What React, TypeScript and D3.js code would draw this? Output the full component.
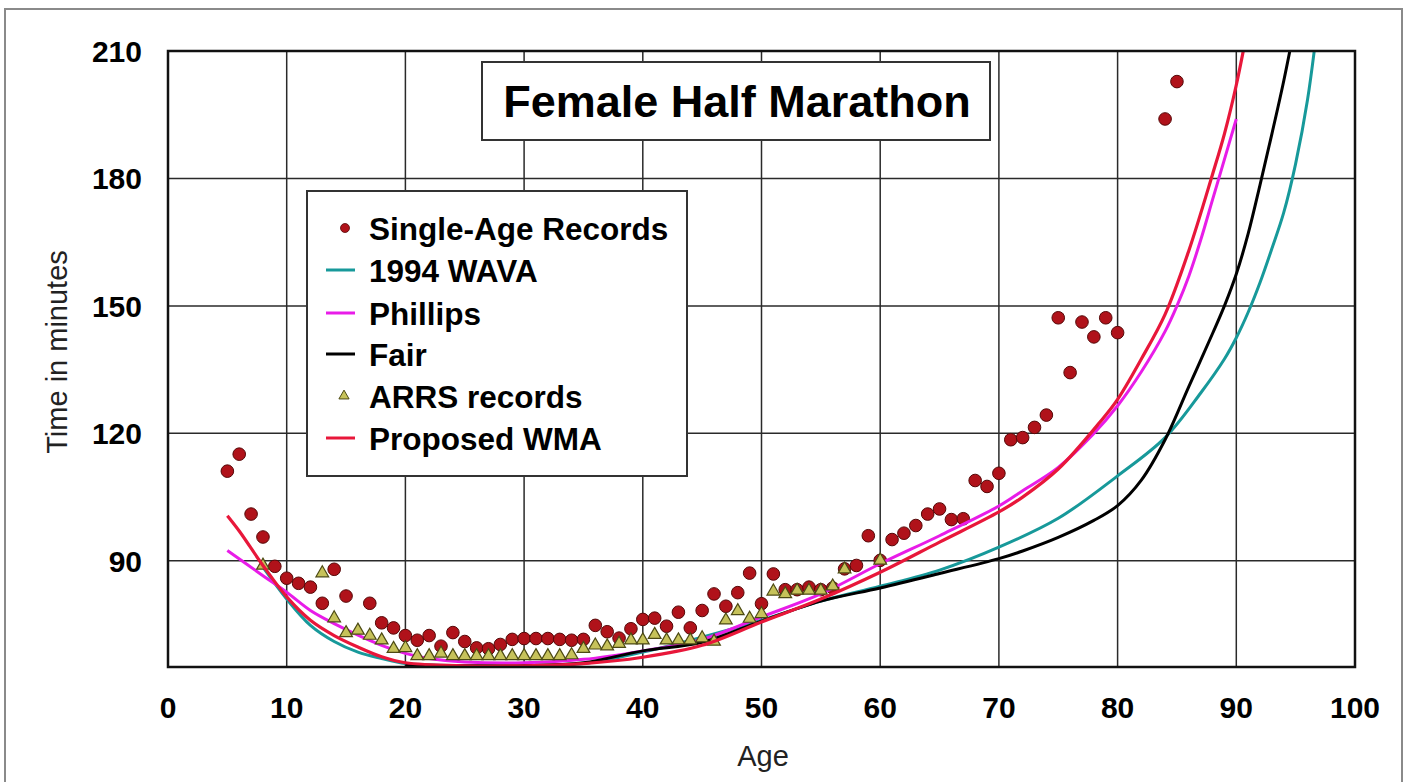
import React from "react";
import * as d3 from "d3";

// ---------- data ----------
const xTicks = [0, 10, 20, 30, 40, 50, 60, 70, 80, 90, 100];
const yTicks = [90, 120, 150, 180, 210];

const recordAges = [5, 6, 7, 8, 9, 10, 11, 12, 13, 14, 15, 17, 18, 19, 20, 21, 22, 23, 24, 25, 26, 27, 28, 29, 30, 31, 32, 33, 34, 35, 36, 37, 38, 39, 40, 41, 42, 43, 44, 45, 46, 47, 48, 49, 50, 51, 52, 53, 54, 55, 56, 57, 58, 59, 60, 61, 62, 63, 64, 65, 66, 67, 68, 69, 70, 71, 72, 73, 74, 75, 76, 77, 78, 79, 80, 84, 85];
const recordTimes = [111.1, 115.1, 101, 95.6, 88.7, 85.9, 84.7, 83.8, 80.0, 88.0, 81.7, 80.0, 75.4, 74.2, 72.4, 71.3, 72.4, 69.9, 73.1, 71.0, 69.5, 69.3, 70.3, 71.5, 71.7, 71.7, 71.7, 71.5, 71.3, 71.5, 74.8, 73.3, 71.8, 74.0, 76.2, 76.5, 74.6, 77.9, 74.2, 78.3, 82.2, 79.3, 82.5, 87.1, 79.9, 86.9, 83.2, 83.2, 83.8, 83.2, 83.6, 88.1, 88.9, 95.9, 90.1, 95.0, 96.5, 98.3, 101.0, 102.2, 99.7, 99.9, 108.9, 107.5, 110.6, 118.5, 119.0, 121.4, 124.3, 147.2, 134.3, 146.2, 142.7, 147.2, 143.7, 194.0, 202.8];

const arrsAges = [8, 13, 14, 15, 16, 17, 18, 19, 20, 21, 22, 23, 24, 25, 26, 27, 28, 29, 30, 31, 32, 33, 34, 35, 36, 37, 38, 39, 40, 41, 42, 43, 44, 45, 46, 47, 48, 49, 50, 51, 52, 53, 54, 55, 56, 57, 60];
const arrsTimes = [88.9, 87.1, 76.5, 73.0, 73.6, 72.4, 71.3, 69.3, 69.5, 67.6, 67.6, 68.2, 67.6, 67.6, 67.6, 67.6, 67.6, 67.6, 67.6, 67.6, 67.6, 67.6, 67.8, 69.3, 70.1, 69.9, 70.5, 71.3, 71.3, 72.6, 71.3, 71.3, 71.3, 71.8, 71.0, 76.0, 78.2, 76.4, 77.5, 82.8, 82.2, 83.0, 83.0, 83.0, 84.0, 88.0, 90.1];

const wavaAges = [8, 10, 12, 14, 16, 18, 20, 25, 30, 35, 40, 45, 50, 55, 60, 65, 70, 75, 80, 84, 87, 89, 90, 91, 92, 93, 94, 95, 96, 97];
const wavaTimes = [88.5, 81, 74.8, 71, 68.5, 67, 65.8, 65.3, 65.3, 65.8, 68.5, 72, 76, 80.5, 84, 87.8, 93.2, 100, 110, 119, 129.5, 137.5, 142.5, 148.5, 155.5, 163.5, 172, 183.5, 198.5, 220];

const phillipsAges = [5, 8, 10, 12, 14, 16, 18, 20, 22, 25, 30, 35, 40, 45, 50, 55, 60, 65, 70, 72, 75, 78, 80, 82, 84, 85, 86, 87, 88, 89, 90];
const phillipsTimes = [92.4, 86.5, 82.6, 78.3, 75.2, 72.5, 70.1, 68.2, 67, 66.2, 66, 66.8, 68.8, 71.5, 76.8, 82.2, 89.3, 95.9, 102.9, 106.5, 112, 120, 126.5, 134.5, 144, 150, 157, 165.5, 175, 184.5, 194];

const fairAges = [20, 25, 30, 35, 40, 45, 50, 55, 60, 65, 70, 72, 75, 78, 80, 82, 84, 86, 88, 89, 90, 91, 92, 93, 94, 95];
const fairTimes = [65.5, 65.3, 65.3, 66, 68.8, 70.8, 75.8, 80.5, 83.6, 87, 90.5, 92.3, 95.5, 99.5, 103, 109, 118.5, 131, 143.5, 150, 157.5, 167, 178.5, 190.5, 203, 217];

const wmaAges = [5, 6, 8, 10, 12, 14, 16, 18, 20, 25, 30, 35, 40, 45, 50, 55, 60, 65, 70, 72, 75, 78.5, 80, 82, 84, 86, 88, 89, 90, 91];
const wmaTimes = [100.6, 97, 88.9, 81.5, 76, 72.4, 69.7, 67.4, 66, 65.3, 65.3, 65.8, 67.3, 70.1, 75.6, 81, 87.3, 94.4, 101.5, 105, 111.6, 122.6, 128, 137.5, 148, 163, 181, 190.5, 202, 216];

const legendLabels = ["Single-Age Records", "1994 WAVA", "Phillips", "Fair", "ARRS records", "Proposed WMA"];

// ---------- layout ----------
const W = 1410;
const H = 782;
const M = { left: 168, right: 1355, top: 51, bottom: 667 };
const FONT = "'Liberation Sans', Arial, Helvetica, sans-serif";

const C = {
  wava: "#17999a",
  phillips: "#e81ce8",
  fair: "#000000",
  wma: "#e8173a",
  recFill: "#b0121a",
  recStroke: "#550808",
  triFill: "#c6c25a",
  triStroke: "#4c4a14",
};

const x = d3.scaleLinear().domain([0, 100]).range([M.left, M.right]);
const y = d3.scaleLinear().domain([65, 210]).range([M.bottom, M.top]);

const zip = (a: number[], b: number[]) => a.map((v, i) => [v, b[i]] as [number, number]);

const lineGen = d3
  .line<[number, number]>()
  .x((d) => x(d[0]))
  .y((d) => y(d[1]))
  .curve(d3.curveCatmullRom.alpha(0.5));

const triPath = d3.symbol().type(d3.symbolTriangle).size(70)() as string;
const triPathSmall = d3.symbol().type(d3.symbolTriangle).size(45)() as string;

export default function App() {
  const series = [
    { key: "wava", data: zip(wavaAges, wavaTimes), color: C.wava },
    { key: "phillips", data: zip(phillipsAges, phillipsTimes), color: C.phillips },
    { key: "fair", data: zip(fairAges, fairTimes), color: C.fair },
  ];
  const records = zip(recordAges, recordTimes);
  const arrs = zip(arrsAges, arrsTimes);
  const wma = zip(wmaAges, wmaTimes);

  const legendX = 307;
  const legendY = 191;
  const rowBase = [240, 282, 325, 366, 408, 450];

  return (
    <svg
      width={W}
      height={H}
      style={{ position: "absolute", left: 0, top: 0, background: "#fff" }}
      fontFamily={FONT}
    >
      <rect x={0} y={0} width={W} height={H} fill="#fff" />
      <rect x={5} y={9} width={1397} height={790} fill="none" stroke="#8a8a8a" strokeWidth={2} />

      <defs>
        <clipPath id="plotClip">
          <rect x={M.left} y={M.top} width={M.right - M.left} height={M.bottom - M.top} />
        </clipPath>
      </defs>

      {xTicks.slice(1, -1).map((t) => (
        <line key={"gx" + t} x1={x(t)} x2={x(t)} y1={M.top} y2={M.bottom} stroke="#2a2a2a" strokeWidth={1.5} />
      ))}
      {yTicks.slice(0, -1).map((t) => (
        <line key={"gy" + t} x1={M.left} x2={M.right} y1={y(t)} y2={y(t)} stroke="#2a2a2a" strokeWidth={1.5} />
      ))}

      {xTicks.map((t) => (
        <text key={"tx" + t} x={x(t)} y={718} textAnchor="middle" fontSize={30} fontWeight="bold" fill="#000">
          {t}
        </text>
      ))}
      {yTicks.map((t) => (
        <text key={"ty" + t} x={142} y={y(t) + 11} textAnchor="end" fontSize={30} fontWeight="bold" fill="#000">
          {t}
        </text>
      ))}

      <text x={763} y={766} textAnchor="middle" fontSize={29} fill="#222">
        Age
      </text>
      <text transform={`translate(67,352) rotate(-90)`} textAnchor="middle" fontSize={29} fill="#222">
        Time in minutes
      </text>

      <g clipPath="url(#plotClip)">
        {records.map((d, i) => (
          <circle key={"r" + i} cx={x(d[0])} cy={y(d[1])} r={6.3} fill={C.recFill} stroke={C.recStroke} strokeWidth={1} />
        ))}
        {series.map((s) => (
          <path key={s.key} d={lineGen(s.data) as string} fill="none" stroke={s.color} strokeWidth={3} />
        ))}
        {arrs.map((d, i) => (
          <path
            key={"a" + i}
            d={triPath}
            transform={`translate(${x(d[0])},${y(d[1])})`}
            fill={C.triFill}
            stroke={C.triStroke}
            strokeWidth={1.2}
          />
        ))}
        <path d={lineGen(wma) as string} fill="none" stroke={C.wma} strokeWidth={3.2} />
      </g>

      <rect x={M.left} y={M.top} width={M.right - M.left} height={M.bottom - M.top} fill="none" stroke="#111" strokeWidth={2.5} />

      <rect x={482} y={62} width={508} height={78} fill="#fff" stroke="#333" strokeWidth={2} />
      <text x={737} y={117} textAnchor="middle" fontSize={45} fontWeight="bold" fill="#000">
        Female Half Marathon
      </text>

      <rect x={legendX} y={legendY} width={380} height={285} fill="#fff" stroke="#333" strokeWidth={2} />
      {legendLabels.map((lab, i) => {
        const cy = rowBase[i] - 12;
        let sym: React.ReactNode = null;
        if (i === 0) sym = <circle cx={345} cy={cy} r={4.5} fill={C.recFill} stroke={C.recStroke} strokeWidth={0.8} />;
        else if (i === 4)
          sym = (
            <path d={triPathSmall} transform={`translate(344,${cy})`} fill={C.triFill} stroke={C.triStroke} strokeWidth={1} />
          );
        else {
          const col = i === 1 ? C.wava : i === 2 ? C.phillips : i === 3 ? C.fair : C.wma;
          sym = <line x1={326} x2={355} y1={cy} y2={cy} stroke={col} strokeWidth={3} />;
        }
        return (
          <g key={"lg" + i}>
            {sym}
            <text x={369} y={rowBase[i]} fontSize={31.5} fontWeight="bold" fill="#000">
              {lab}
            </text>
          </g>
        );
      })}
    </svg>
  );
}
